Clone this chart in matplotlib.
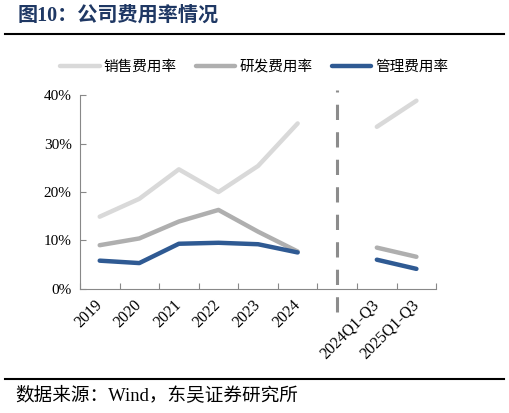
import matplotlib.pyplot as plt
import matplotlib.transforms as mtransforms
from matplotlib.lines import Line2D
import numpy as np

categories = ["2019", "2020", "2021", "2022", "2023", "2024", "", "2024Q1-Q3", "2025Q1-Q3"]
sales = [14.9, 18.6, 24.7, 20.0, 25.4, 34.2, None, 33.5, 38.9]
rnd = [9.0, 10.4, 13.9, 16.3, 11.8, 7.7, None, 8.5, 6.6]
admin = [5.8, 5.3, 9.3, 9.5, 9.2, 7.5, None, 6.0, 4.1]
series_names = ["销售费用率", "研发费用率", "管理费用率"]
colors = ["#D9D9D9", "#AFAFAF", "#2F5A93"]

fam = ["Liberation Serif", "Noto Sans CJK SC"]
plt.rcParams['font.family'] = fam

fig = plt.figure(figsize=(5.09, 4.13), dpi=100)
ax = fig.add_axes([0.157, 0.301, 0.700, 0.468])

x = np.arange(len(categories))
for vals, name, c in zip([sales, rnd, admin], series_names, colors):
    y = np.array([np.nan if v is None else v / 100 for v in vals])
    ax.plot(x, y, color=c, lw=3.2, label=name, solid_capstyle='round')

ax.set_xlim(-0.5, len(categories) - 0.5)
ax.set_ylim(0, 0.4)
ax.set_yticks([0, 0.1, 0.2, 0.3, 0.4])
ax.set_yticklabels(["0%", "10%", "20%", "30%", "40%"])
ax.set_xticks(np.arange(-0.5, len(categories)), minor=False)
ax.set_xticklabels([])
ax.set_xticks(x, minor=True)
ax.set_xticklabels(categories, minor=True, rotation=45, ha='right', va='center',
                   rotation_mode='anchor')
ax.tick_params(axis='x', which='minor', length=0, pad=10, labelsize=11.5)
ax.tick_params(axis='x', which='major', direction='in', length=4, color='#888888')
ax.tick_params(axis='y', direction='in', length=4, color='#888888', labelsize=11, pad=6)
for s in ['top', 'right']:
    ax.spines[s].set_visible(False)
for s in ['left', 'bottom']:
    ax.spines[s].set_color('#888888')

trans = mtransforms.blended_transform_factory(ax.transData, ax.transAxes)
ax.plot([6, 6], [-0.12, 1.03], transform=trans, clip_on=False, color='#8C8C8C',
        lw=2.2, dashes=(5, 4))

fig.legend(loc='center', bbox_to_anchor=(0.5, 0.838), ncol=3, frameon=False,
           fontsize=10.5, handlelength=2.7, columnspacing=1.3, handletextpad=0.3)

fig.text(0.035, 0.962, "图10：公司费用率情况", fontsize=14.5, fontweight='bold',
         color='#1F3864', va='center')
fig.add_artist(Line2D([0.01, 0.99], [0.918, 0.918], color='black', lw=1.5))
fig.add_artist(Line2D([0.01, 0.99], [0.082, 0.082], color='black', lw=1.5))
fig.text(0.03, 0.043, "数据来源：Wind，东吴证券研究所", fontsize=13.4, va='center')

fig.savefig("out.png", dpi=100)
